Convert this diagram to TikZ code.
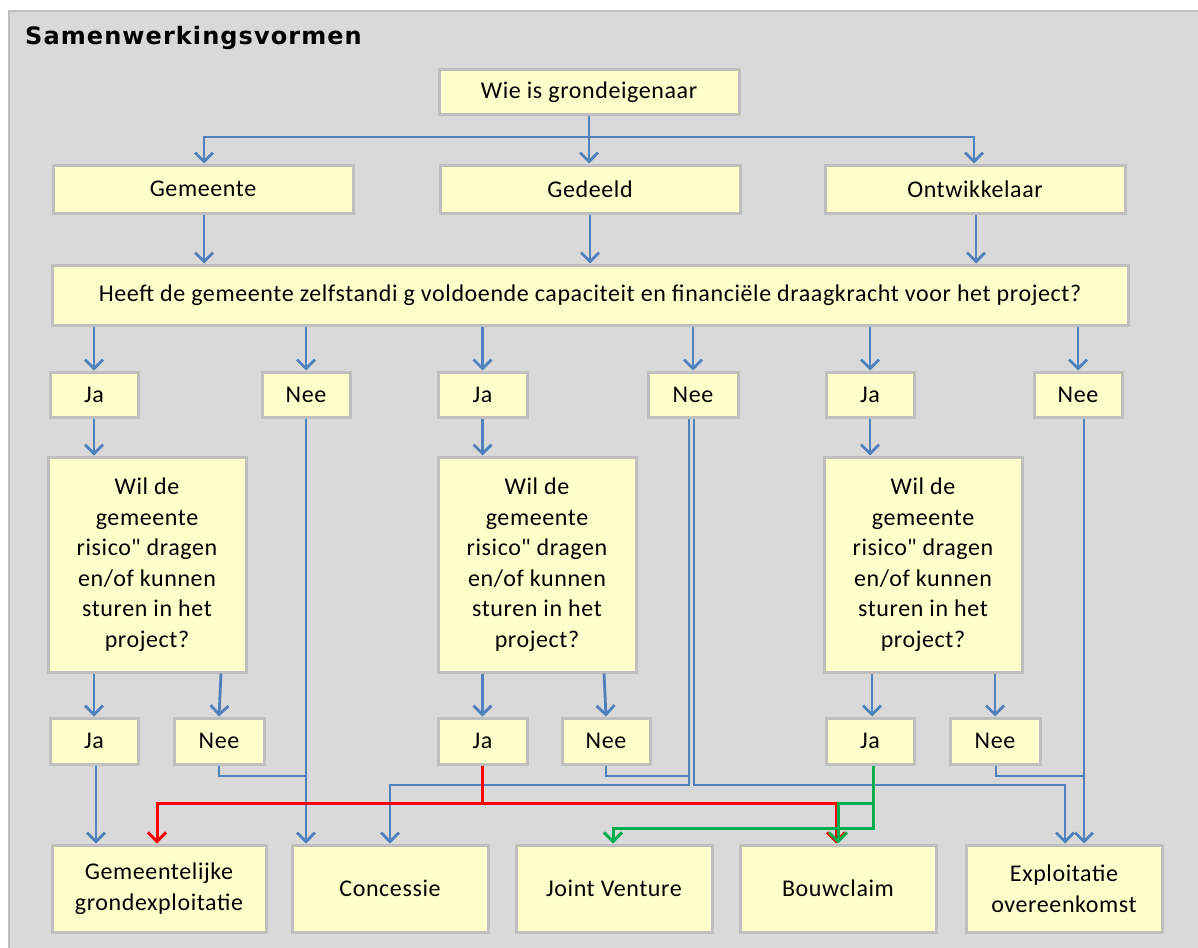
\documentclass[tikz,border=0pt]{standalone}
\usepackage{fontspec}
\setmainfont{Carlito}[LetterSpace=2.5]
\newfontfamily\titlefont{DejaVu Sans}[LetterSpace=4.5]
\font\plaincarlito="Carlito" at 24pt
\newcommand\straightquote{{\plaincarlito\char34}}
\usetikzlibrary{arrows.meta,shadows}
\definecolor{panelfill}{HTML}{D9D9D9}
\definecolor{panelborder}{HTML}{BFBFBF}
\definecolor{boxfill}{HTML}{FFFFCC}
\definecolor{boxborder}{HTML}{BFBFBF}
\definecolor{flowblue}{HTML}{4F81BD}
\definecolor{flowred}{HTML}{FF0000}
\definecolor{flowgreen}{HTML}{00B050}
\tikzset{
  box/.style={draw=boxborder, line width=3pt, fill=boxfill, inner sep=2pt,
    align=center, font=\fontsize{24}{30.5}\selectfont,
    drop shadow={shadow xshift=1.5pt, shadow yshift=-1.5pt, fill=black!30, opacity=1}},
  tip/.style={-{Straight Barb[length=9pt,width=18pt]}},
  blueline/.style={draw=flowblue, line width=2.8pt},
  bluearr/.style={blueline, tip},
  redarr/.style={draw=flowred, line width=3pt, tip},
  greenarr/.style={draw=flowgreen, line width=3pt, tip},
}
\begin{document}
\begin{tikzpicture}[x=1pt,y=-1pt]
\useasboundingbox (0,0) rectangle (1198,947);
\fill[white] (0,0) rectangle (1198,947);
\draw[fill=panelfill, draw=panelborder, line width=2.5pt] (9,11) rectangle (1210,960);
\node[anchor=base west, inner sep=0pt, font=\titlefont\bfseries\fontsize{24}{28}\selectfont] (title) at (25,45) {Samenwerkingsvormen};

% level 0-1
\node[box, minimum width=300, minimum height=45] (wie) at (589,92.5) {Wie is grondeigenaar};
\node[box, minimum width=300, minimum height=48] (gem) at (203,189) {Gemeente};
\node[box, minimum width=300, minimum height=48] (ged) at (590,189) {Gedeeld};
\node[box, minimum width=300, minimum height=48] (ont) at (975,189) {Ontwikkelaar};
\node[box, minimum width=1076, minimum height=60] (q) at (590,295) {Heeft de gemeente zelfstandi g voldoende capaciteit en financiële draagkracht voor het project?};

% row 1
\node[box, minimum width=88, minimum height=45] (ja1) at (94,394.5) {Ja};
\node[box, minimum width=88, minimum height=45] (nee1) at (306,394.5) {Nee};
\node[box, minimum width=89, minimum height=45] (ja2) at (482.5,394.5) {Ja};
\node[box, minimum width=90, minimum height=45] (nee2) at (693,394.5) {Nee};
\node[box, minimum width=88, minimum height=45] (ja3) at (870,394.5) {Ja};
\node[box, minimum width=88, minimum height=45] (nee3) at (1078,394.5) {Nee};

% questions
\node[box, minimum width=198, minimum height=215] (w1) at (147,564.5) {Wil de\\gemeente\\risico\straightquote{} dragen\\en/of kunnen\\sturen in het\\project?};
\node[box, minimum width=198, minimum height=215] (w2) at (537,564.5) {Wil de\\gemeente\\risico\straightquote{} dragen\\en/of kunnen\\sturen in het\\project?};
\node[box, minimum width=198, minimum height=215] (w3) at (923,564.5) {Wil de\\gemeente\\risico\straightquote{} dragen\\en/of kunnen\\sturen in het\\project?};

% row 2
\node[box, minimum width=88, minimum height=46] (ja4) at (94,741) {Ja};
\node[box, minimum width=90, minimum height=46] (nee4) at (219,741) {Nee};
\node[box, minimum width=89, minimum height=46] (ja5) at (482.5,741) {Ja};
\node[box, minimum width=88, minimum height=46] (nee5) at (606,741) {Nee};
\node[box, minimum width=88, minimum height=46] (ja6) at (870,741) {Ja};
\node[box, minimum width=90, minimum height=46] (nee6) at (995,741) {Nee};

% outcomes
\node[box, minimum width=214, minimum height=87] (b1) at (159,888.5) {Gemeentelijke\\grondexploitatie};
\node[box, minimum width=196, minimum height=87] (b2) at (390,888.5) {Concessie};
\node[box, minimum width=196, minimum height=87] (b3) at (614,888.5) {Joint Venture};
\node[box, minimum width=196, minimum height=87] (b4) at (838,888.5) {Bouwclaim};
\node[box, minimum width=196, minimum height=87] (b5) at (1064,888.5) {Exploitatie\\overeenkomst};

% helper coordinates
\coordinate (split) at (589,137);
\coordinate (y776) at (0,776);
\coordinate (y785) at (0,785);
\coordinate (y803) at (0,803);
\coordinate (y828) at (0,828);

% blue connectors top
\draw[blueline] (wie.south) -- (split);
\draw[bluearr] (split) -| ([xshift=1pt]gem.north);
\draw[bluearr] (split) -- (split |- ged.north);
\draw[bluearr] (split) -| ([xshift=-1pt]ont.north);
\draw[bluearr] ([xshift=1pt]gem.south) -- ([xshift=1pt]gem.south |- q.north);
\draw[bluearr] (ged.south) -- (ged.south |- q.north);
\draw[bluearr] ([xshift=1pt]ont.south) -- ([xshift=1pt]ont.south |- q.north);
\foreach \n in {ja1,nee1,ja2,nee2,ja3,nee3}
  \draw[bluearr] (\n.north |- q.south) -- (\n.north);
\draw[bluearr] (ja1.south) -- (ja1.south |- w1.north);
\draw[bluearr] (ja2.south) -- (ja2.south |- w2.north);
\draw[bluearr] (ja3.south) -- (ja3.south |- w3.north);
\draw[bluearr] (ja4.north |- w1.south) -- (ja4.north);
\draw[bluearr] ([xshift=2pt]nee4.north |- w1.south) -- (nee4.north);
\draw[bluearr] (ja5.north |- w2.south) -- (ja5.north);
\draw[bluearr] ([xshift=-2pt]nee5.north |- w2.south) -- (nee5.north);
\draw[bluearr] ([xshift=2pt]ja6.north |- w3.south) -- ([xshift=2pt]ja6.north);
\draw[bluearr] (nee6.north |- w3.south) -- (nee6.north);

% blue connectors bottom
\draw[bluearr] ([xshift=2pt]ja4.south) -- ([xshift=2pt]ja4.south |- b1.north);
\draw[bluearr] (nee1.south) -- (nee1.south |- b2.north);
\draw[blueline] (nee4.south) |- (nee1.south |- y776);
\draw[bluearr] ([xshift=-4pt]nee2.south) |- (b2.north |- y785) -- (b2.north);
\draw[bluearr] ([xshift=1pt]nee2.south) |- ([xshift=1pt]b5.north |- y785) -- ([xshift=1pt]b5.north);
\draw[blueline] (nee5.south) |- ([xshift=-4pt]nee2.south |- y776);
\draw[bluearr] ([xshift=6pt]nee3.south) -- ([xshift=6pt]nee3.south |- b5.north);
\draw[blueline] ([xshift=1pt]nee6.south) |- ([xshift=6pt]nee3.south |- y776);

% red connectors
\draw[redarr] (ja5.south) |- ([xshift=-2pt]b1.north |- y803) -- ([xshift=-2pt]b1.north);
\draw[redarr] (ja5.south) |- ([xshift=-2pt]b4.north |- y803) -- ([xshift=-2pt]b4.north);

% green connectors
\draw[greenarr] ([xshift=3pt]ja6.south) |- (b4.north |- y803) -- (b4.north);
\draw[greenarr] ([xshift=3pt]ja6.south) |- ([xshift=-1pt]b3.north |- y828) -- ([xshift=-1pt]b3.north);
\end{tikzpicture}
\end{document}
